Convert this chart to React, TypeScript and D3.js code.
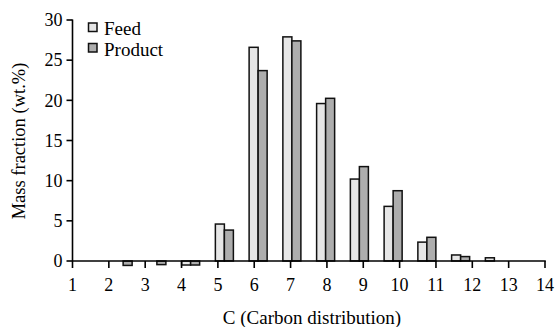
import React from "react";
import * as d3 from "d3";

const categories = [1, 2, 3, 4, 5, 6, 7, 8, 9, 10, 11, 12, 13, 14];
const feed = [0, 0, 0, -0.5, 4.6, 26.6, 27.9, 19.6, 10.2, 6.8, 2.35, 0.75, 0.4, 0];
const product = [0, -0.55, -0.45, -0.5, 3.85, 23.7, 27.4, 20.25, 11.75, 8.75, 2.95, 0.55, 0, 0];
const seriesNames = ["Feed", "Product"];
const yTicks = [0, 5, 10, 15, 20, 25, 30];
const xTicks = [1, 2, 3, 4, 5, 6, 7, 8, 9, 10, 11, 12, 13, 14];

const W = 557;
const H = 327;
const left = 72.5;
const right = 545;
const top = 20;
const bottom = 261;
const colors = ["#e6e6e6", "#adadad"];
const font = "'Liberation Serif', 'Times New Roman', serif";

export default function App() {
  const y = d3.scaleLinear().domain([0, 30]).range([bottom, top]);
  const xTick = d3.scaleLinear().domain([1, 14]).range([left, right]);
  const xBand = d3
    .scaleBand<number>()
    .domain(categories)
    .range([left, right])
    .paddingInner(0.466)
    .paddingOuter(0.233);
  const xSub = d3
    .scaleBand<string>()
    .domain(seriesNames)
    .range([0, xBand.bandwidth()]);
  const series = [feed, product];

  return (
    <svg
      width={W}
      height={H}
      style={{ position: "absolute", left: 0, top: 0, background: "#fff" }}
      fontFamily={font}
    >
      {series.map((vals, si) =>
        vals.map((v, i) => {
          if (v === 0) return null;
          const x0 = (xBand(categories[i]) ?? 0) + (xSub(seriesNames[si]) ?? 0);
          const y0 = y(Math.max(0, v));
          const h = Math.abs(y(v) - y(0));
          return (
            <rect
              key={`${si}-${i}`}
              x={x0}
              y={y0}
              width={xSub.bandwidth()}
              height={h}
              fill={colors[si]}
              stroke="#111"
              strokeWidth={1.5}
            />
          );
        })
      )}
      {/* y axis */}
      <line x1={left} x2={left} y1={top - 0.5} y2={bottom} stroke="#000" strokeWidth={1.6} />
      {yTicks.map((t) => (
        <g key={t}>
          <line x1={left - 6} x2={left} y1={y(t)} y2={y(t)} stroke="#000" strokeWidth={1.6} />
          <text
            x={left - 10}
            y={y(t)}
            dy="0.35em"
            textAnchor="end"
            fontSize={18}
          >
            {t}
          </text>
        </g>
      ))}
      {/* x axis */}
      <line x1={left} x2={right + 0.8} y1={bottom} y2={bottom} stroke="#000" strokeWidth={1.6} />
      {xTicks.map((t) => (
        <g key={t}>
          <line x1={xTick(t)} x2={xTick(t)} y1={bottom} y2={bottom + 7} stroke="#000" strokeWidth={1.6} />
          <text x={xTick(t)} y={291} textAnchor="middle" fontSize={18}>
            {t}
          </text>
        </g>
      ))}
      <text x={312} y={324} textAnchor="middle" fontSize={19}>
        C (Carbon distribution)
      </text>
      <text
        transform={`translate(25, 141) rotate(-90)`}
        textAnchor="middle"
        fontSize={18.5}
      >
        Mass fraction (wt.%)
      </text>
      {/* legend */}
      {seriesNames.map((n, i) => (
        <g key={n} transform={`translate(88.5, ${23 + i * 20.5})`}>
          <rect x={0} y={0} width={8.5} height={8.5} fill={colors[i]} stroke="#111" strokeWidth={1.5} />
          <text x={15.5} y={12} fontSize={19}>
            {n}
          </text>
        </g>
      ))}
    </svg>
  );
}
